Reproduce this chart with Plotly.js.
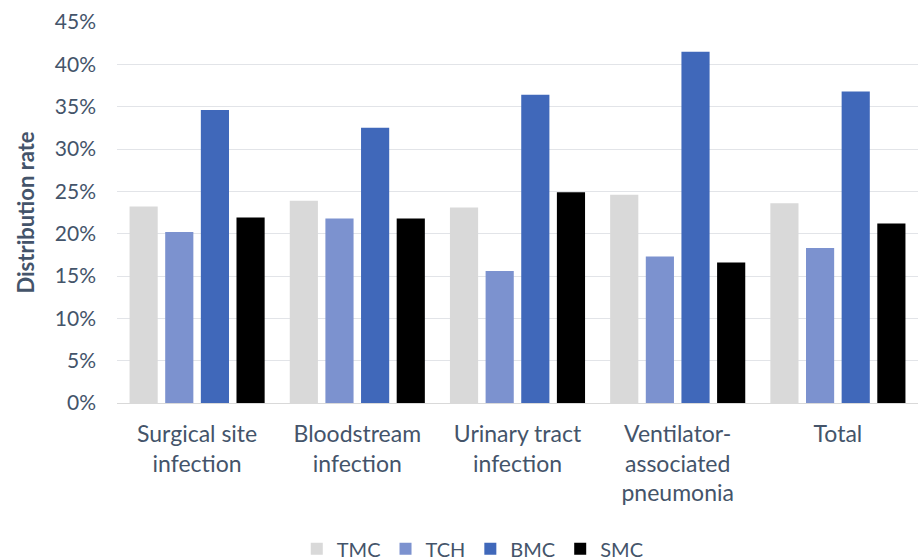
<!DOCTYPE html>
<html>
<head>
<meta charset="utf-8">
<script src="https://cdn.plot.ly/plotly-3.0.1.min.js"></script>
<style>html,body{margin:0;padding:0;background:#fff;}#chart{width:918px;height:560px;}</style>
</head>
<body>
<div id="chart"></div>
<script>
var categories = ["Surgical site<br>infection", "Bloodstream<br>infection", "Urinary tract<br>infection", "Ventilator-<br>associated<br>pneumonia", "Total"];
var seriesNames = ["TMC", "TCH", "BMC", "SMC"];
var TMC = [23.2, 23.9, 23.1, 24.6, 23.6];
var TCH = [20.2, 21.8, 15.6, 17.3, 18.3];
var BMC = [34.6, 32.5, 36.4, 41.5, 36.8];
var SMC = [21.9, 21.8, 24.9, 16.6, 21.2];
var colors = ["#d9d9d9", "#7c92cf", "#4068ba", "#000000"];
var values = [TMC, TCH, BMC, SMC];

var traces = seriesNames.map(function(n, i){
  return {
    type: 'bar', name: n, x: categories, y: values[i],
    marker: {color: colors[i]},
    hoverinfo: 'skip'
  };
});

var fontFam = 'Lato, "Open Sans", sans-serif';
var txt = '#44546a';
var layout = {
  width: 918, height: 560,
  margin: {l: 117, r: 0, t: 22, b: 157},
  paper_bgcolor: '#fff', plot_bgcolor: '#fff',
  barmode: 'group', bargap: 0.11, bargroupgap: 0.21,
  font: {family: fontFam, size: 20, color: txt},
  xaxis: {
    type: 'category', showgrid: false, showline: true, linecolor: '#d9d9d9', linewidth: 1,
    ticks: '', tickfont: {size: 23, color: txt}, ticklabelstandoff: 10, automargin: false
  },
  yaxis: {
    range: [0, 45], dtick: 5, ticksuffix: '%', showgrid: true, gridcolor: '#e2e4e8', gridwidth: 1,
    zeroline: false, showline: false, ticks: '', tickfont: {size: 21, color: txt},
    ticklabelstandoff: 20, automargin: false,
    title: {text: '<b>Distribution rate</b>', font: {size: 22, color: txt}, standoff: 14}
  },
  legend: {
    orientation: 'h', xref: 'container', xanchor: 'center', x: 0.515, yref: 'container', yanchor: 'middle', y: 0.02,
    font: {size: 20, color: txt}, itemwidth: 30, traceorder: 'normal'
  },
  showlegend: true
};
Plotly.newPlot('chart', traces, layout, {displayModeBar: false, staticPlot: true});
</script>
</body>
</html>
